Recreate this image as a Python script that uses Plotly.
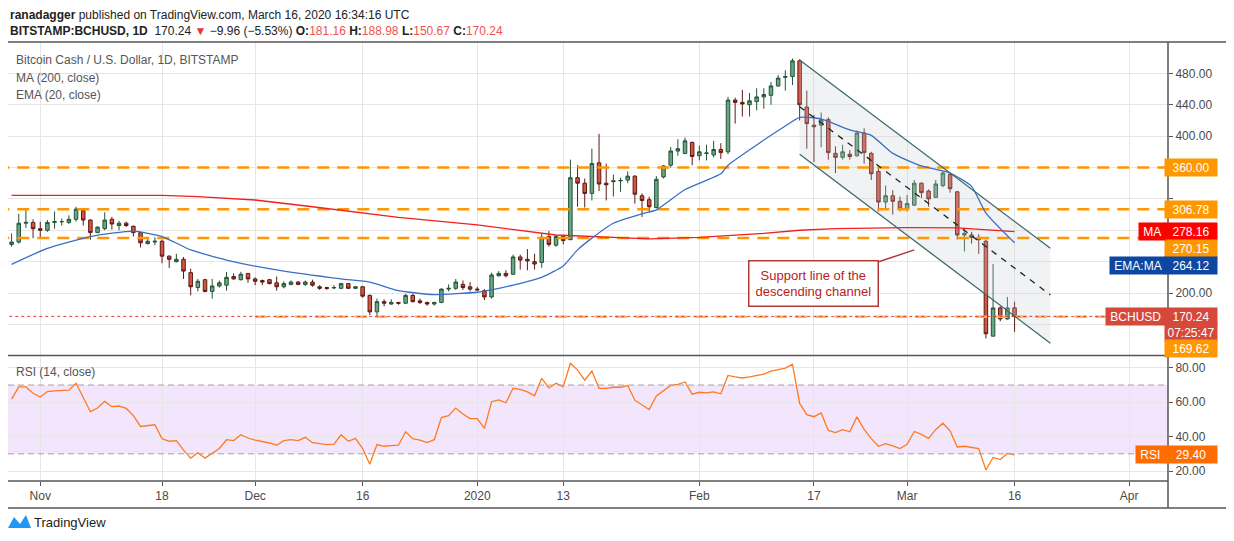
import pandas as pd
import plotly.graph_objects as go

# daily candles, Oct 28 2019 -> Mar 16 2020
dates = pd.date_range("2019-10-28", "2020-03-16", freq="D")

opens = [262, 265, 289, 290,
         282, 280, 290, 291, 290, 294, 305, 293, 277, 282, 294, 286, 289, 285, 277, 263, 265, 266, 247, 240, 243, 226, 207, 217, 202, 209, 210, 221, 217, 225,
         218, 216, 217, 213, 208, 211, 214, 211, 214, 208, 207, 206.5, 206, 212, 206, 208, 197, 176, 189, 186, 188, 187, 197, 190, 188, 186, 188, 205, 206, 211, 208,
         205, 203, 195, 222, 225, 224, 246, 243, 240, 239, 272, 261, 272, 268, 347, 340, 327, 366, 340, 342, 343, 344, 349, 324, 319, 309, 348, 363, 381, 378, 392,
         375, 378, 376, 383, 380, 446, 443, 440, 444, 450, 452, 464, 475, 476, 496, 437, 414, 414, 421, 378, 373, 377, 375, 404, 378, 355, 316, 324, 317,
         307, 312, 340, 330, 322, 337, 351, 329, 274, 274, 271, 266, 145, 181, 167, 181.16]
highs = [276, 301, 307, 294,
         291, 293, 304, 295, 299, 310, 306, 294, 285, 303, 297, 292, 291, 286, 278, 269, 271, 268, 248, 250, 246, 231, 218, 218, 218, 216, 227, 225, 227, 225,
         220, 217, 218, 221, 215, 216, 215, 216, 217, 210, 208, 210, 213, 213, 209, 209, 198, 193, 192, 192, 188, 199, 199, 193, 189, 189, 206, 211, 218, 216, 214,
         208, 205, 226, 228, 229, 249, 249, 256, 250, 276, 279, 274, 274, 370, 363, 346, 384, 403, 365, 351, 347, 355, 350, 327, 323, 349, 363, 386, 396, 398, 393,
         388, 389, 394, 391, 450, 449, 459, 455, 461, 461, 469, 478, 484, 499, 498, 458, 427, 430, 424, 387, 389, 382, 407, 410, 380, 361, 337, 331, 323,
         325, 344, 341, 332, 344, 355, 353, 330, 282, 278, 275, 268, 237, 183, 195, 188.98]
lows = [259, 263, 283, 270,
        271, 278, 282, 286, 288, 291, 286, 268, 277, 280, 281, 280, 284, 272, 258, 262, 261, 238, 232, 239, 218, 197, 202, 201, 193, 207, 203, 217, 216, 213,
        210, 210, 211, 203, 206, 210, 210, 209, 208, 204, 204, 205, 205, 205, 205, 194, 172, 169, 183, 185, 185, 186, 188, 186, 184, 184, 187, 202, 204, 204, 202,
        203, 191, 193, 221, 220, 223, 230, 229, 230, 232, 259, 259, 262, 268, 310, 309, 318, 330, 318, 323, 329, 340, 314, 297, 304, 308, 346, 360, 375, 377, 363,
        369, 369, 373, 371, 377, 416, 425, 425, 433, 435, 440, 463, 458, 465, 420, 384, 367, 386, 370, 353, 370, 370, 374, 365, 344, 304, 307, 300, 304,
        304, 311, 321, 310, 321, 335, 328, 268, 253, 263, 250, 142, 145, 164, 166, 150.67]
closes = [265, 289, 290, 282,
          280, 290, 291, 291, 294, 307, 293, 277, 284, 293, 288, 289, 286, 277, 264, 266, 266, 247, 243, 243, 228, 208, 215, 202, 209, 213, 220, 218, 224, 218,
          215, 214, 212, 208, 212, 214, 211, 214, 210, 206, 206, 207, 212, 206, 208, 196, 176, 189, 187, 188, 187, 197, 189, 188, 186, 188, 205, 206, 214, 207, 205,
          204, 195, 223, 225, 222, 246, 242, 241, 237, 271, 262, 272, 267, 347, 340, 327, 365, 339, 338, 343, 343.5, 349, 326, 318, 310, 345, 362, 381, 384, 394, 374,
          380, 378.5, 383, 379, 446, 443, 441, 445, 450, 453, 464, 474, 476, 496, 440, 416, 412, 421, 379, 373, 380, 374, 404, 379, 352, 316, 324, 317, 307,
          314, 340, 328, 320, 339, 353, 333, 274, 276, 271, 268, 148, 181, 167, 181, 170.24]

rsi = [61.8, 68.9, 68.9, 65.2,
       63, 66.2, 66.6, 66.6, 67, 71, 62.8, 54.5, 56.6, 60.5, 57.4, 57.8, 56.4, 52.2, 45.9, 46.3, 46.9, 38.8, 37.3, 37.7, 32.1, 27.5, 30.6, 27.5, 30.2, 33.1, 38.2, 37.7, 41.1, 39.2,
       38, 37.3, 36.3, 35, 37.7, 38.2, 37.7, 39.6, 36.5, 35.9, 35.4, 35.6, 41.1, 37.3, 39, 33.1, 23.9, 35.4, 34.4, 34.8, 35, 42.8, 38.8, 38, 36.5, 38.2, 51.1, 52.2, 56.6, 53.2, 50.5,
       50.5, 44.8, 60.3, 61.4, 59.7, 68.1, 67.5, 66, 63.7, 73.9, 68.3, 71, 68.9, 82.7, 78.7, 72.9, 78.1, 68.1, 68.1, 68.7, 68.7, 69.7, 61.2, 58.5, 55.7, 63.7, 66.6, 69.8, 70.4, 71.8, 64.7,
       65.8, 65.4, 66, 64.9, 75.6, 74.8, 74.1, 74.8, 75.6, 76.4, 78.1, 79, 79.8, 82.1, 59.3, 52.8, 51.6, 53.8, 43.6, 42.3, 44, 42.8, 51.5, 44.2, 38.8, 34.4, 35.9, 34.6, 33.1,
       35.6, 43, 41.3, 39, 44.2, 47.8, 43.4, 34, 34.4, 33.8, 33.1, 20.6, 27.9, 26.7, 30.2, 29.4]

# moving averages at key dates
ma_dates = ["2019-10-28", "2019-11-18", "2019-11-23", "2019-12-01", "2019-12-09", "2019-12-21", "2020-01-01",
            "2020-01-06", "2020-01-12", "2020-01-25", "2020-02-01", "2020-02-10", "2020-02-15", "2020-02-20",
            "2020-03-01", "2020-03-08", "2020-03-16"]
ma_vals = [324.5, 324.5, 322.8, 318.6, 310, 296.5, 286.8, 281, 274, 269, 271, 276, 280, 282, 283.4, 283, 278.16]
ema_dates = ["2019-10-28", "2019-11-02", "2019-11-08", "2019-11-14", "2019-11-18", "2019-11-22", "2019-11-27",
             "2019-12-04", "2019-12-13", "2019-12-17", "2019-12-21", "2019-12-26", "2020-01-01", "2020-01-03",
             "2020-01-06", "2020-01-10", "2020-01-13", "2020-01-15", "2020-01-17", "2020-01-20", "2020-01-24",
             "2020-01-26", "2020-01-30", "2020-02-04", "2020-02-05", "2020-02-10", "2020-02-13", "2020-02-15",
             "2020-02-18", "2020-02-22", "2020-02-25", "2020-02-28", "2020-03-03", "2020-03-07", "2020-03-10",
             "2020-03-12", "2020-03-16"]
ema_vals = [236.6, 257, 272, 279, 272, 255, 242, 229.4, 218, 214, 203, 198, 201, 204, 210, 220, 234.6, 255, 270,
            289, 301, 306, 332, 352, 363, 395, 413, 424, 422, 408, 401, 378, 362, 353, 336, 302, 264.12]

levels = [360.00, 306.78, 270.15]
level_low = 169.62
last_price = 170.24

# descending channel
ch_dates = ["2020-02-15", "2020-03-21"]
ch_upper = [497, 257]
ch_mid = [437.5, 197.6]
ch_lower = [377, 136]

x_ticks = ["2019-11-01", "2019-11-18", "2019-12-01", "2019-12-16", "2020-01-01", "2020-01-13",
           "2020-02-01", "2020-02-17", "2020-03-01", "2020-03-16", "2020-04-01"]
x_labels = ["Nov", "18", "Dec", "16", "2020", "13", "Feb", "17", "Mar", "16", "Apr"]

FONT = "Liberation Sans"
GRID = "#e6e6e6"
AX = "#4a4a4a"

fig = go.Figure()

# channel fill
fig.add_trace(go.Scatter(x=[ch_dates[0], ch_dates[1], ch_dates[1], ch_dates[0], ch_dates[0]],
                         y=[ch_upper[0], ch_upper[1], ch_lower[1], ch_lower[0], ch_upper[0]],
                         fill="toself", fillcolor="rgba(200,205,212,0.25)", line=dict(width=0),
                         mode="lines", hoverinfo="skip", showlegend=False))

for lv in levels:
    fig.add_trace(go.Scatter(x=[dates[0] - pd.Timedelta(days=2), "2020-04-08"], y=[lv, lv], mode="lines",
                             line=dict(color="#ff9800", width=2.5, dash="12px,8px"), showlegend=False))
fig.add_trace(go.Scatter(x=["2019-12-01", "2020-04-08"], y=[level_low, level_low], mode="lines",
                         line=dict(color="#ffb74d", width=2.5, dash="12px,8px"), showlegend=False))
fig.add_trace(go.Scatter(x=[dates[0] - pd.Timedelta(days=2), "2020-04-08"], y=[last_price, last_price], mode="lines",
                         line=dict(color="#e53935", width=1, dash="dot"), showlegend=False))

fig.add_trace(go.Scatter(x=ma_dates, y=ma_vals, mode="lines", line=dict(color="#f21f1f", width=1.3), showlegend=False))
fig.add_trace(go.Scatter(x=ema_dates, y=ema_vals, mode="lines", line=dict(color="#3a6fc4", width=1.3, shape="spline", smoothing=0.5), showlegend=False))

fig.add_trace(go.Candlestick(x=dates, open=opens, high=highs, low=lows, close=closes,
                             increasing=dict(line=dict(color="#225437", width=1), fillcolor="#6ba583"),
                             decreasing=dict(line=dict(color="#5b1a13", width=1), fillcolor="#d75442"),
                             whiskerwidth=0, showlegend=False))

for ys, col, dash, w in [(ch_upper, "#3d6a6a", "solid", 1.3), (ch_lower, "#3d6a6a", "solid", 1.3), (ch_mid, "#222222", "6px,6px", 1.3)]:
    fig.add_trace(go.Scatter(x=ch_dates, y=ys, mode="lines", line=dict(color=col, width=w, dash=dash), showlegend=False))

# RSI pane
fig.add_trace(go.Scatter(x=dates, y=rsi, mode="lines", line=dict(color="#ff7a1f", width=1.3),
                         xaxis="x2", yaxis="y2", showlegend=False))

PW = 1160.0
PH = 439.0


def px(xp):
    return (xp - 8) / PW


def py(yp):
    return (481 - yp) / PH


def pr(yp):
    # pixel row in the price pane -> price
    return 480 - (yp - 73.3) / 0.785


shapes = [
    dict(type="rect", xref="x2", yref="y2", x0="2019-10-20", x1="2020-04-10", y0=30, y1=70,
         fillcolor="#f3e5fc", line=dict(width=0), layer="below"),
    dict(type="line", xref="paper", yref="y2", x0=0, x1=1, y0=70, y1=70, line=dict(color="#a8a0a8", width=1, dash="6px,4px")),
    dict(type="line", xref="paper", yref="y2", x0=0, x1=1, y0=30, y1=30, line=dict(color="#a8a0a8", width=1, dash="6px,4px")),
    dict(type="line", xref="paper", yref="paper", x0=px(6), x1=1, y0=py(355.5), y1=py(355.5), line=dict(color="#555", width=1.5)),
    dict(type="line", xref="paper", yref="paper", x0=px(6), x1=1, y0=0, y1=0, line=dict(color="#555", width=1.5)),
    dict(type="rect", xref="paper", yref="paper", x0=px(6), x1=px(1232), y0=py(508), y1=py(42),
         line=dict(color="#555", width=1.5)),
    dict(type="line", xref="paper", yref="paper", x0=1, x1=1, y0=py(508), y1=1, line=dict(color="#555", width=1.5)),
]

ann = []


def text(x, y, s, size=12, color="#555", **kw):
    ann.append(dict(xref="paper", yref="paper", x=px(x), y=py(y), text=s, showarrow=False, xanchor="left",
                    yanchor="middle", font=dict(family=FONT, size=size, color=color), **kw))


text(8, 15, "<b>ranadagger</b> published on TradingView.com, March 16, 2020 16:34:16 UTC", 12, "#222")
text(8, 31, "<b>BITSTAMP:BCHUSD, 1D</b>  170.24 <span style='color:#e53935'>▼</span> −9.96 (−5.53%) <b>O:</b>"
            "<span style='color:#ef5350'>181.16</span> <b>H:</b><span style='color:#ef5350'>188.98</span> "
            "<b>L:</b><span style='color:#ef5350'>150.67</span> <b>C:</b><span style='color:#ef5350'>170.24</span>", 12, "#222")
text(14, 60, "Bitcoin Cash / U.S. Dollar, 1D, BITSTAMP", 12, "#555")
text(14, 78, "MA (200, close)", 12, "#555")
text(14, 95, "EMA (20, close)", 12, "#555")
text(14, 372, "RSI (14, close)", 12, "#555")
text(32, 522, "TradingView", 13, "#222")


def tag(y, s, bg, yref="y"):
    ann.append(dict(xref="paper", yref=yref, x=1, y=y, xshift=-4, text=s, showarrow=False, xanchor="left",
                    yanchor="middle", bgcolor=bg, font=dict(family=FONT, size=12, color="white"),
                    borderpad=1, width=50, height=15))


def name(y, s, bg, yref="y"):
    ann.append(dict(xref="paper", yref=yref, x=1, y=y, xshift=-2, text=s, showarrow=False, xanchor="right",
                    yanchor="middle", bgcolor=bg, font=dict(family=FONT, size=12, color="white"),
                    borderpad=1, height=15))


tag(360, "360.00", "#ff9800")
tag(306.78, "306.78", "#ff9800")
tag(pr(232), "278.16", "#ff0000")
tag(pr(249), "270.15", "#ff9800")
tag(pr(266), "264.12", "#0d47a1")
tag(170.24, "170.24", "#d6493a")
tag(pr(333), "07:25:47", "#d6493a")
tag(pr(349), "169.62", "#ff9800")
name(pr(232), " MA ", "#ff0000")
name(pr(266), " EMA:MA ", "#0d47a1")
name(170.24, " BCHUSD ", "#d6493a")
name(29.4, " RSI ", "#ff6d00", yref="y2")
tag(29.4, "29.40", "#ff6d00", yref="y2")

# callout
ann.append(dict(x="2020-03-02", y=255, ax="2020-02-17", ay=212, xref="x", yref="y", axref="x", ayref="y",
                text="Support line of the<br>descending channel", showarrow=True, arrowhead=0, arrowwidth=1.5,
                arrowcolor="#b03a3a", bgcolor="white", bordercolor="#b03a3a", borderwidth=1.5, borderpad=6,
                font=dict(family=FONT, size=13, color="#b71c1c")))

# the page adds an 8px offset, so the margins are shifted to compensate
fig.update_layout(
    width=1234, height=541, margin=dict(l=0, r=74, t=34, b=68, autoexpand=False),
    paper_bgcolor="white", plot_bgcolor="white", font=dict(family=FONT, size=11, color=AX),
    showlegend=False, shapes=shapes, annotations=ann, hovermode=False,
    xaxis=dict(domain=[0, 1], anchor="y", range=["2019-10-27 12:00", "2020-04-06 10:00"], rangeslider=dict(visible=False),
               tickvals=x_ticks, ticktext=[""] * len(x_ticks), showgrid=True, gridcolor=GRID, zeroline=False, ticks=""),
    xaxis2=dict(domain=[0, 1], anchor="y2", matches="x", tickvals=x_ticks, ticktext=x_labels, showgrid=True,
                gridcolor=GRID, zeroline=False, ticks="outside", ticklen=4, tickcolor="#555",
                tickfont=dict(family=FONT, size=12, color=AX)),
    yaxis=dict(domain=[py(355), 1], side="right", range=[121, 520], tickvals=[160, 200, 240, 280, 320, 360, 400, 440, 480],
               ticktext=["", "200.00", "", "", "", "", "400.00", "440.00", "480.00"], showgrid=True, gridcolor=GRID,
               zeroline=False, ticks="outside", ticklen=4, tickcolor="#555", tickfont=dict(family=FONT, size=12, color=AX)),
    yaxis2=dict(domain=[0, py(357)], side="right", range=[14.2, 86.3], tickvals=[20, 40, 60, 80],
                ticktext=["20.00", "40.00", "60.00", "80.00"], showgrid=True, gridcolor=GRID, zeroline=False,
                ticks="outside", ticklen=4, tickcolor="#555", tickfont=dict(family=FONT, size=12, color=AX)),
)

# little logo mark
fig.add_shape(type="path", xref="paper", yref="paper",
              path=f"M {px(8)} {py(528)} L {px(14)} {py(517)} L {px(20)} {py(524)} L {px(26)} {py(515)} L {px(31)} {py(528)} Z",
              fillcolor="#2196f3", line=dict(width=0))

fig.write_html("out.html")
